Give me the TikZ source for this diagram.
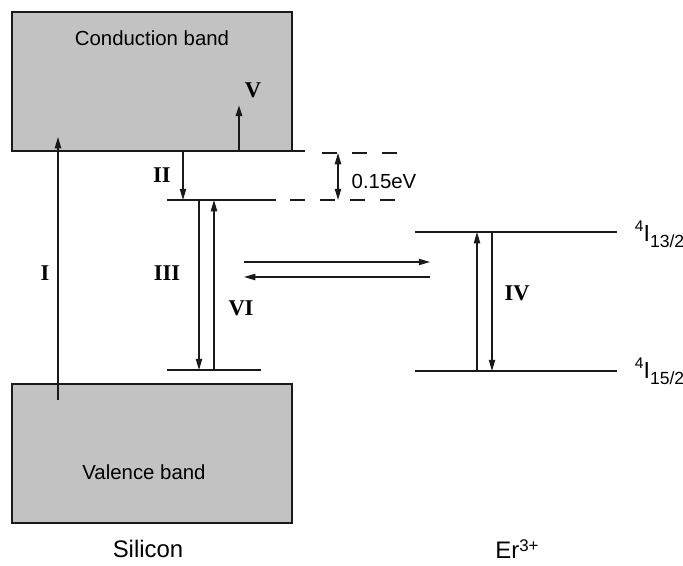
\documentclass[tikz,border=0pt]{standalone}
\usepackage{fontspec}
\setmainfont{Liberation Sans}
\newfontfamily\romfont{Liberation Serif}
\usetikzlibrary{arrows.meta}
\definecolor{bandgray}{HTML}{C2C2C2}
\definecolor{inkdark}{HTML}{1A1A1A}
% term symbol of an Er level: superscript 4, I, subscript J
\newcommand{\erterm}[1]{\raisebox{6.5pt}{\fontsize{11}{12}\selectfont 4}I\raisebox{-4.5pt}{\fontsize{12.5}{13}\selectfont #1}}

\begin{document}
\begin{tikzpicture}[
  x=0.025cm,y=-0.025cm,
  font=\fontsize{14.5}{17}\selectfont,
  band/.style={draw=inkdark,line width=1pt,fill=bandgray},
  lvl/.style={draw=inkdark,line width=1.1pt},
  arr/.style={-{Triangle[length=8pt,width=4.5pt]},draw=inkdark,line width=0.8pt},
  arrthick/.style={arr,line width=1.6pt},
  gap/.style={draw=inkdark,line width=1pt,dash pattern=on 10.7pt off 10.7pt},
  num/.style={font=\romfont\bfseries\fontsize{16}{18}\selectfont},
  title/.style={font=\fontsize{17}{19}\selectfont},
]
\useasboundingbox (0,0) rectangle (683,565);

% Silicon bands
\draw[band] (12,12) rectangle (292,151);
\draw[band] (12,384) rectangle (292,523);
\node (cbtext) at (152,38) {Conduction band};
\node (vbtext) at (144,472) {Valence band};

% Silicon levels
\draw[lvl] (292,151) -- (305,151);
\draw[lvl] (167,200) -- (276,200);
\draw[lvl] (167,370) -- (261,370);

% 0.15 eV gap, dashed
\draw[gap] (322,153) -- (400,153);
\draw[gap] (290,200) -- (400,200);
\coordinate (gapT) at (338,153);
\coordinate (gapB) at (338,200);
\draw[arr,{Triangle[length=8pt,width=4.5pt]}-{Triangle[length=8pt,width=4.5pt]},line width=1pt] (gapT) -- (gapB);
\node (gaplbl) at (384,181) {0.15eV};

% Er3+ levels
\draw[lvl] (415,232) -- (617,232);
\draw[lvl] (415,371) -- (617,371);
\node[anchor=base west] (upper) at (630,241) {\fontsize{16.5}{18}\selectfont\erterm{13/2}};
\node[anchor=base west] (lower) at (630,378) {\fontsize{16.5}{18}\selectfont\erterm{15/2}};

% Transition end points
\coordinate (Ia) at (58,400);   \coordinate (Ib) at (58,137);
\coordinate (IIa) at (183,151); \coordinate (IIb) at (183,200);
\coordinate (IIIa) at (199,200); \coordinate (IIIb) at (199,370);
\coordinate (VIa) at (214,370); \coordinate (VIb) at (214,200);
\coordinate (Va) at (239,151);  \coordinate (Vb) at (239,105);
\coordinate (IVa) at (477,371); \coordinate (IVb) at (477,232);
\coordinate (IVc) at (492,232); \coordinate (IVd) at (492,371);
\coordinate (tfR) at (244,262); \coordinate (tfE) at (430,262);
\coordinate (bkE) at (430,277); \coordinate (bkR) at (244,277);

% Transitions
\draw[arr] (Ia) -- (Ib);
\draw[arr] (IIa) -- (IIb);
\draw[arr] (IIIa) -- (IIIb);
\draw[arr] (VIa) -- (VIb);
\draw[arrthick] (Va) -- (Vb);
\draw[arr] (IVa) -- (IVb);
\draw[arr] (IVc) -- (IVd);
\draw[arr] (tfR) -- (tfE);
\draw[arr] (bkE) -- (bkR);

% Process labels
\node[num] (pI) at (45,273) {I};
\node[num] (pII) at (162,175) {II};
\node[num] (pIII) at (167,273) {III};
\node[num] (pIV) at (517,293) {IV};
\node[num] (pV) at (253,90) {V};
\node[num] (pVI) at (241,308) {VI};

% Captions
\node[title] (si) at (148,549) {Silicon};
\node[title] (er) at (517,549) {Er{\fontsize{12}{13}\selectfont\raisebox{5pt}{3+}}};
\end{tikzpicture}
\end{document}
